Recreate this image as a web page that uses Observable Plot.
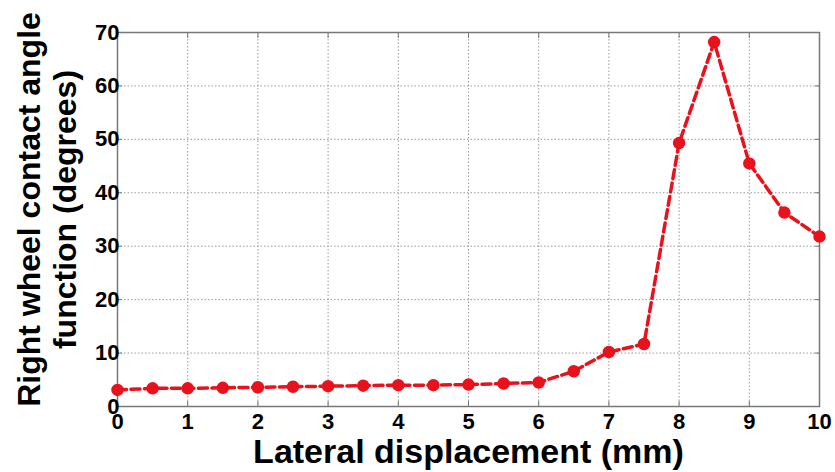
<!DOCTYPE html>
<html>
<head>
<meta charset="utf-8">
<script src="https://cdn.jsdelivr.net/npm/d3@7"></script>
<script src="https://cdn.jsdelivr.net/npm/@observablehq/plot@0.6"></script>
<style>
  html, body { margin: 0; padding: 0; background: #fff; }
</style>
</head>
<body>
<div id="chart"></div>
<script>
const displacement = [0, 0.5, 1, 1.5, 2, 2.5, 3, 3.5, 4, 4.5, 5, 5.5, 6, 6.5, 7, 7.5, 8, 8.5, 9, 9.5, 10];
const angle = [3.1, 3.4, 3.4, 3.5, 3.6, 3.7, 3.8, 3.9, 4.0, 4.0, 4.1, 4.3, 4.5, 6.6, 10.2, 11.7, 49.3, 68.2, 45.5, 36.3, 31.8];
const xTicks = [0, 1, 2, 3, 4, 5, 6, 7, 8, 9, 10];
const yTicks = [0, 10, 20, 30, 40, 50, 60, 70];
const xLabel = "Lateral displacement (mm)";
const yLabel = "Right wheel contact angle\nfunction (degrees)";

const data = displacement.map((x, i) => ({x, y: angle[i]}));
const red = "#e8121c";

const chart = Plot.plot({
  width: 835,
  height: 472,
  marginLeft: 117,
  marginRight: 16,
  marginTop: 32,
  marginBottom: 66,
  x: {domain: [0, 10]},
  y: {domain: [0, 70]},
  style: {fontFamily: "'Liberation Sans', Arial, sans-serif", fontWeight: "bold", fontSize: "22px", color: "#000", background: "#fff"},
  marks: [
    Plot.gridX(xTicks, {stroke: "#999", strokeOpacity: 1, strokeDasharray: "1.5,2", strokeWidth: 1}),
    Plot.gridY(yTicks, {stroke: "#999", strokeOpacity: 1, strokeDasharray: "1.5,2", strokeWidth: 1}),
    Plot.frame({stroke: "#777", strokeWidth: 1.5}),
    Plot.axisX(xTicks, {tickSize: -5, stroke: "#777", tickPadding: 12, fontSize: 22, fontWeight: "bold", label: null}),
    Plot.axisX(xTicks, {anchor: "top", tickSize: -5, stroke: "#777", tickFormat: () => "", label: null}),
    Plot.axisY(yTicks, {tickSize: -5, stroke: "#777", tickPadding: 3, fontSize: 22, fontWeight: "bold", label: null}),
    Plot.axisY(yTicks, {anchor: "right", tickSize: -5, stroke: "#777", tickFormat: () => "", label: null}),
    Plot.line(data, {x: "x", y: "y", stroke: red, strokeWidth: 3.5, strokeDasharray: "9,4.5"}),
    Plot.dot(data, {x: "x", y: "y", r: 5.5, fill: red, stroke: red}),
    Plot.text([xLabel], {frameAnchor: "bottom", lineAnchor: "middle", dy: 46, fontSize: 34, fontWeight: "bold", text: d => d}),
    Plot.text([yLabel], {frameAnchor: "left", textAnchor: "middle", dx: -71, dy: -10, rotate: -90, fontSize: 32, fontWeight: "bold", lineHeight: 1.12, text: d => d})
  ]
});
document.getElementById("chart").appendChild(chart);
</script>
</body>
</html>
